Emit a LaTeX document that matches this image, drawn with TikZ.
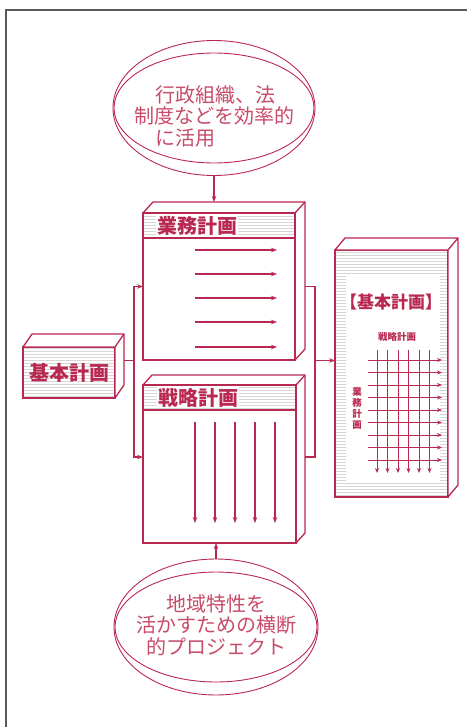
\documentclass[tikz,border=0pt]{standalone}
\usepackage{fontspec}
\newfontfamily\jp{Noto Sans CJK JP}
\usetikzlibrary{shapes.geometric,arrows.meta,patterns,calc}
\definecolor{crim}{RGB}{185,40,80}
\definecolor{ctxt}{RGB}{200,75,105}
\definecolor{frame}{RGB}{90,90,90}
\newcommand\boxdepth[3]{%
  \draw[line, fill=white, line join=round] (#1.north west) -- ++(#2,#3) -- ($(#1.north east)+(#2,#3)$) -- ($(#1.south east)+(#2,#3)$) -- (#1.south east) -- (#1.north east) -- cycle;
  \draw[line] (#1.north east) -- ++(#2,#3);
}
\begin{document}
\begin{tikzpicture}[x=1pt,y=-1pt,
  line/.style={draw=crim,line width=1.3pt},
  conn/.style={draw=crim,line width=1.2pt},
  tip/.style={-{Stealth[length=6pt,width=4.5pt]}},
  face/.style={draw=crim,line width=1.3pt, fill=white, inner sep=0pt, outer sep=0pt},
  hatch/.style={pattern=horizontal lines, pattern color=black!16},
  hatchface/.style={face, path picture={\fill[hatch] (path picture bounding box.south west) rectangle (path picture bounding box.north east);}},
  ell/.style={ellipse, draw=crim, line width=0.9pt, inner sep=0pt},
  etext/.style={font=\jp\fontsize{20}{21.5}\selectfont, text=ctxt, inner sep=0pt},
  head/.style={font=\jp\bfseries\fontsize{20}{20}\selectfont, text=crim, inner sep=1pt},
  small/.style={font=\jp\bfseries\fontsize{9.5}{11}\selectfont, text=crim, inner sep=0pt, align=center},
]
\useasboundingbox (0,0) rectangle (467,727);
\draw[frame, line width=1.3pt] (6,727) -- (6,10) -- (467,10);

% top ellipse
\node[ell, minimum width=202pt, minimum height=135pt] (e1) at (214,108) {};
\draw[crim, line width=0.9pt] (e1.center) ellipse [x radius=100pt, y radius=55pt];
\node[etext, align=left] (t1) at (214,116) {\hspace*{21pt}行政組織、法\\制度などを効率的\\\hspace*{21pt}に活用};

% 業務計画 box
\node[face, minimum width=152pt, minimum height=147pt, anchor=north west] (gyo) at (143,213) {};
\boxdepth{gyo}{10}{-11}
\fill[hatch] (gyo.north west) rectangle ($(gyo.north east)+(0,25)$);
\draw[line] (gyo.north west) rectangle (gyo.south east);
\draw[line] ($(gyo.north west)+(0,25)$) -- ($(gyo.north east)+(0,25)$);
\node[head, fill=white, anchor=west] (gyoh) at ($(gyo.north west)+(13,12.5)$) {業務計画};
\foreach \y in {250,274,298,322,347} \draw[conn,tip] (195,\y) -- (277,\y);

% 戦略計画 box
\node[face, minimum width=153pt, minimum height=158pt, anchor=north west] (sen) at (143,385) {};
\boxdepth{sen}{9}{-10}
\fill[hatch] (sen.north west) rectangle ($(sen.north east)+(0,25)$);
\draw[line] (sen.north west) rectangle (sen.south east);
\draw[line] ($(sen.north west)+(0,25)$) -- ($(sen.north east)+(0,25)$);
\node[head, fill=white, anchor=west] (senh) at ($(sen.north west)+(14,12.5)$) {戦略計画};
\foreach \x in {195,215,235,255,275} \draw[conn,tip] (\x,422) -- (\x,523);

% 基本計画 small box
\node[hatchface, minimum width=92pt, minimum height=51pt, anchor=north west] (kh) at (23,347) {};
\boxdepth{kh}{9}{-13}
\node[head] (khl) at (kh.center) {基本計画};

% big right box
\node[hatchface, minimum width=113pt, minimum height=247pt, anchor=north west] (kei) at (335,250) {};
\boxdepth{kei}{10}{-12}
\fill[white] ($(kei.north west)+(11,26)$) rectangle ($(kei.south east)+(-8,-15)$);
\node[font=\jp\bfseries\fontsize{17}{17}\selectfont, text=crim, inner sep=0pt] (keih) at (391,302) {【基本計画】};
\node[small] (ks) at (397,337) {戦略計画};
\node[small] (kg) at (357,408) {業\\務\\計\\画};
\foreach \x in {377,387.5,398,408.5,419,429.5} \draw[conn,line width=1pt,-{Stealth[length=5pt,width=4pt]}] (\x,350) -- (\x,473);
\foreach \y in {360,372.5,385,397.5,410,422.5,435,447.5,460} \draw[conn,line width=1pt,-{Stealth[length=5pt,width=4pt]}] (368,\y) -- (442,\y);

% bottom ellipse
\node[ell, minimum width=204pt, minimum height=136pt] (e2) at (216,627) {};
\draw[crim, line width=0.9pt] (e2.center) ellipse [x radius=101pt, y radius=55pt];
\node[etext, align=center] (t2) at (216,625) {地域特性を\\活かすための横断\\的プロジェクト};

% connectors
\coordinate (busL) at (134,0);
\coordinate (busR) at (315,0);
\coordinate (khR) at ($(kh.east)+(9,-12)$);
\coordinate (gyoIn) at (gyo.west);
\coordinate (senIn) at ($(sen.west)+(0,-7)$);
\coordinate (gyoOut) at ($(gyo.east)+(10,0)$);
\coordinate (senOut) at ($(sen.east)+(9,-7)$);
\coordinate (keiIn) at ($(kei.west)+(0,-13)$);
\draw[conn,tip] (e1.south) -- ($(e1.south |- gyo.north)+(0,-11)$);
\draw[conn,tip] (e2.north) -- (e2.north |- sen.south);
\draw[conn] (khR) -- (khR -| busL);
\draw[conn,tip] (khR -| busL) |- (gyoIn);
\draw[conn,tip] (khR -| busL) |- (senIn);
\draw[conn] (gyoOut) -| (busR |- senOut) -- (senOut);
\draw[conn,tip] (busR |- keiIn) -- (keiIn);
\end{tikzpicture}
\end{document}
